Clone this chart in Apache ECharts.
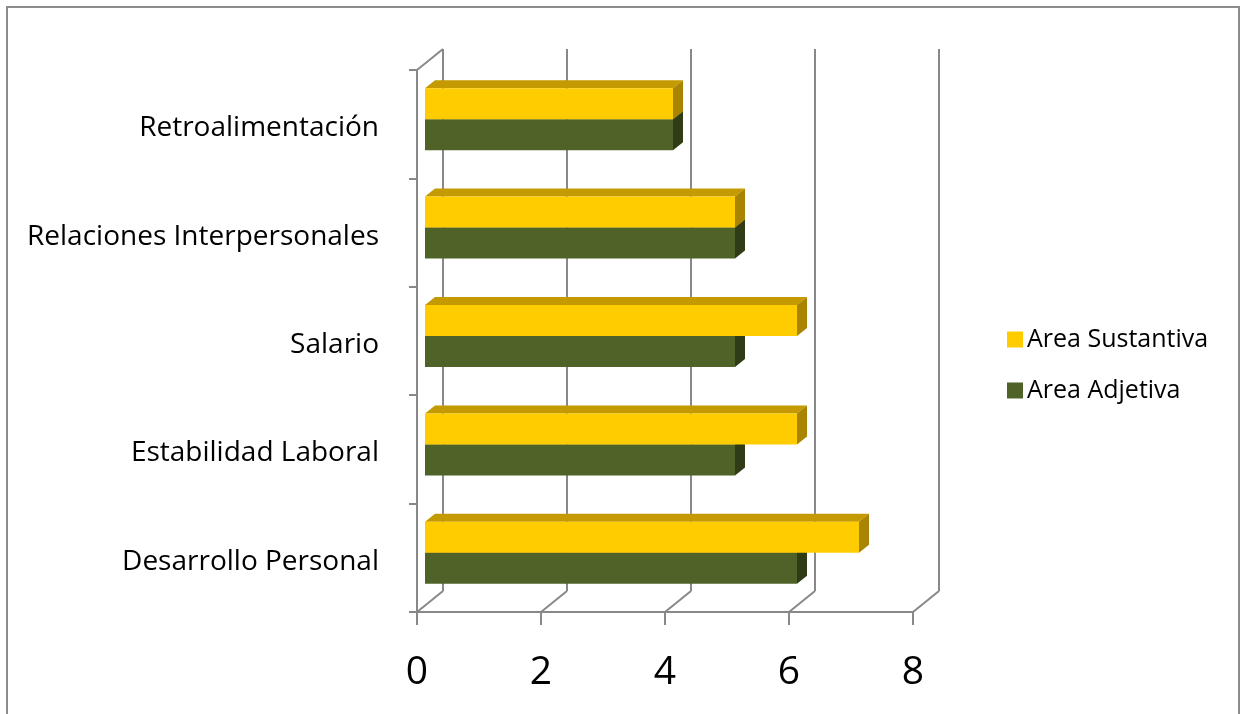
<!DOCTYPE html>
<html>
<head>
<meta charset="utf-8">
<script src="https://cdn.jsdelivr.net/npm/echarts@6/dist/echarts.min.js"></script>
<style>
  html, body { margin: 0; padding: 0; background: #fff; }
  #chart { width: 1241px; height: 714px; }
</style>
</head>
<body>
<div id="chart"></div>
<script>
// categories, bottom to top as the category axis draws them
const categories = ['Desarrollo Personal', 'Estabilidad Laboral', 'Salario', 'Relaciones Interpersonales', 'Retroalimentación'];
const sustantiva = [7, 6, 6, 5, 4];
const adjetiva = [6, 5, 5, 5, 4];
const xTicks = [0, 2, 4, 6, 8];

const FONT = '"Open Sans", sans-serif';
const WALL_DX = 26, WALL_DY = -21;   // back wall offset
const BAR_DX = 8, BAR_DY = -5;       // bar front face offset
const DEPTH_X = 10, DEPTH_Y = -8;    // bar depth
const GRID_COLOR = '#888888';

function bar3d(front, top, side, upper) {
  return function (params, api) {
    const idx = api.value(0);
    const val = api.value(1);
    const start = api.coord([0, idx]);
    const end = api.coord([val, idx]);
    const band = api.size([0, 1])[1];
    const h = band * 0.286;
    const x0 = start[0] + BAR_DX;
    const x1 = end[0] + BAR_DX;
    const yTop = upper ? start[1] + BAR_DY - h : start[1] + BAR_DY;
    const yBot = yTop + h;
    return {
      type: 'group',
      children: [
        {
          type: 'polygon',
          shape: { points: [[x0, yTop], [x0 + DEPTH_X, yTop + DEPTH_Y], [x1 + DEPTH_X, yTop + DEPTH_Y], [x1, yTop]] },
          style: { fill: top }
        },
        {
          type: 'polygon',
          shape: { points: [[x1, yTop], [x1 + DEPTH_X, yTop + DEPTH_Y], [x1 + DEPTH_X, yBot + DEPTH_Y], [x1, yBot]] },
          style: { fill: side }
        },
        {
          type: 'rect',
          shape: { x: x0, y: yTop, width: x1 - x0, height: h },
          style: { fill: front }
        }
      ]
    };
  };
}

// back wall gridline + floor diagonal for one x tick
function wall(params, api) {
  const v = api.value(0);
  const band = api.size([0, 1])[1];
  const first = api.coord([v, 0]);
  const last = api.coord([v, categories.length - 1]);
  const x = first[0];
  const yBottom = first[1] + band / 2;
  const yTop = last[1] - band / 2;
  const line = (x1, y1, x2, y2) => ({
    type: 'line',
    shape: { x1: x1, y1: y1, x2: x2, y2: y2 },
    style: { stroke: GRID_COLOR, lineWidth: 2 }
  });
  const children = [
    line(x, yBottom, x + WALL_DX, yBottom + WALL_DY),
    line(x + WALL_DX, yBottom + WALL_DY, x + WALL_DX, yTop + WALL_DY)
  ];
  if (v === 0) {
    children.push(line(x, yTop, x + WALL_DX, yTop + WALL_DY));
  }
  return { type: 'group', children: children };
}

const chart = echarts.init(document.getElementById('chart'));

chart.setOption({
  animation: false,
  backgroundColor: '#ffffff',
  graphic: [{
    type: 'rect',
    shape: { x: 7, y: 7, width: 1232, height: 720 },
    style: { fill: 'none', stroke: '#8c8c8c', lineWidth: 2 }
  }],
  legend: {
    orient: 'vertical',
    left: 1002,
    top: 322,
    itemWidth: 16,
    itemHeight: 16,
    itemGap: 26,
    icon: 'rect',
    textStyle: { fontFamily: FONT, fontSize: 25, color: '#000', padding: [0, 0, 0, -1] },
    data: [
      { name: 'Area Sustantiva', itemStyle: { color: '#FFCC00' } },
      { name: 'Area Adjetiva', itemStyle: { color: '#4F6228' } }
    ]
  },
  grid: { left: 417, top: 70, width: 496, height: 542 },
  xAxis: {
    type: 'value',
    min: 0,
    max: 8,
    interval: 2,
    axisLine: { show: true, lineStyle: { color: GRID_COLOR, width: 2 } },
    axisTick: { show: true, length: 13, lineStyle: { color: GRID_COLOR, width: 2 } },
    splitLine: { show: false },
    axisLabel: { fontFamily: FONT, fontSize: 39, color: '#000', margin: 41 }
  },
  yAxis: {
    type: 'category',
    data: categories,
    axisLine: { show: true, lineStyle: { color: GRID_COLOR, width: 2 } },
    axisTick: { show: true, length: 8, lineStyle: { color: GRID_COLOR, width: 2 } },
    axisLabel: {
      margin: 38,
      formatter: v => '{c|' + v + '}',
      rich: {
        c: { fontFamily: FONT, fontSize: 28, color: '#000', padding: [8, 0, 0, 0] }
      }
    }
  },
  series: [
    {
      type: 'custom',
      name: 'wall',
      renderItem: wall,
      data: xTicks.map(v => [v]),
      encode: { x: 0 },
      z: 1,
      silent: true
    },
    {
      type: 'custom',
      name: 'Area Adjetiva',
      renderItem: bar3d('#4F6228', '#3D4D1E', '#2F3C16', false),
      data: adjetiva.map((v, i) => [i, v]),
      encode: { y: 0, x: 1 },
      itemStyle: { color: '#4F6228' },
      z: 3
    },
    {
      type: 'custom',
      name: 'Area Sustantiva',
      renderItem: bar3d('#FFCC00', '#C49A00', '#A88400', true),
      data: sustantiva.map((v, i) => [i, v]),
      encode: { y: 0, x: 1 },
      itemStyle: { color: '#FFCC00' },
      z: 4
    }
  ]
});
</script>
</body>
</html>
